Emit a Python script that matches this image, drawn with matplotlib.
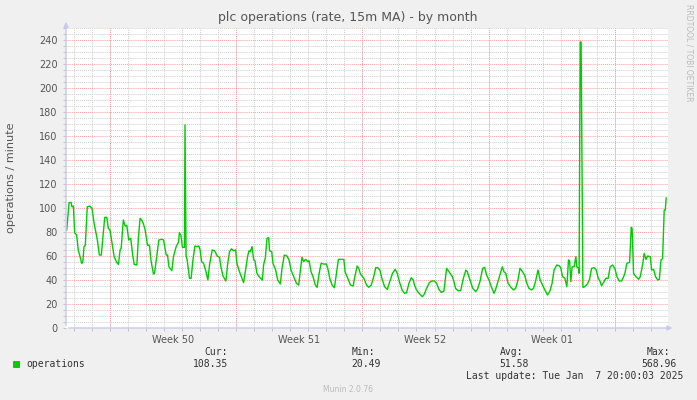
import numpy as np
import matplotlib.pyplot as plt
from matplotlib.patches import Rectangle

# ============== DATA ==============
# time in days from the left edge of the graph, value in operations / minute
days = [0.04, 0.17, 0.28, 0.33, 0.41, 0.48, 0.59, 0.68, 0.78, 0.87, 0.93, 1.00, 1.07,
        1.18, 1.33, 1.44, 1.56, 1.63, 1.74, 1.85, 1.96, 2.04, 2.15, 2.26, 2.35, 2.44,
        2.54, 2.67, 2.82, 2.91, 3.00, 3.06, 3.18, 3.28, 3.37, 3.48, 3.59, 3.70, 3.78,
        3.93, 4.02, 4.11, 4.21, 4.29, 4.39, 4.52, 4.63, 4.71, 4.85, 4.91, 5.04, 5.15,
        5.32, 5.41, 5.56, 5.63, 5.71, 5.87, 5.96, 6.11, 6.24, 6.29, 6.37, 6.46, 6.57,
        6.60, 6.66, 6.72, 6.85, 6.94, 7.04, 7.15, 7.26, 7.37, 7.44, 7.52, 7.63, 7.74,
        7.87, 7.96, 8.11, 8.24, 8.39, 8.52, 8.59, 8.71, 8.87, 8.96, 9.07, 9.18, 9.29,
        9.41, 9.48, 9.59, 9.71, 9.85, 9.96, 10.07, 10.15, 10.22, 10.32, 10.41, 10.48,
        10.59, 10.74, 10.89, 10.96, 11.06, 11.15, 11.24, 11.29, 11.41, 11.48, 11.63,
        11.74, 11.89, 11.98, 12.11, 12.26, 12.37, 12.48, 12.63, 12.78, 12.91, 13.00,
        13.09, 13.18, 13.29, 13.41, 13.48, 13.59, 13.70, 13.83, 13.93, 14.04, 14.15,
        14.29, 14.44, 14.52, 14.63, 14.76, 14.89, 15.00, 15.11, 15.26, 15.41, 15.48,
        15.63, 15.78, 15.93, 16.00, 16.15, 16.24, 16.33, 16.52, 16.67, 16.79, 16.93,
        17.07, 17.18, 17.29, 17.41, 17.52, 17.67, 17.82, 17.93, 18.11, 18.26, 18.37,
        18.52, 18.65, 18.78, 18.89, 19.02, 19.15, 19.26, 19.33, 19.44, 19.57, 19.76,
        19.85, 20.00, 20.15, 20.29, 20.44, 20.56, 20.68, 20.82, 20.96, 21.11, 21.18,
        21.30, 21.43, 21.52, 21.61, 21.74, 21.89, 22.04, 22.18, 22.26, 22.41, 22.56,
        22.72, 22.82, 22.96, 23.11, 23.22, 23.33, 23.46, 23.59, 23.74, 23.82, 23.93,
        24.07, 24.20, 24.29, 24.39, 24.52, 24.67, 24.82, 24.94, 25.07, 25.18, 25.32,
        25.44, 25.56, 25.68, 25.82, 25.93, 26.06, 26.18, 26.30, 26.43, 26.56, 26.71,
        26.85, 26.96, 27.07, 27.22, 27.35, 27.44, 27.54, 27.67, 27.78, 27.87, 27.93,
        28.00, 28.07, 28.18, 28.28, 28.33, 28.43, 28.46, 28.52, 28.57, 28.67, 28.78,
        28.93, 29.04, 29.15, 29.29, 29.41, 29.52, 29.63, 29.70, 29.82, 29.94, 30.07,
        30.18, 30.32, 30.44, 30.56, 30.68, 30.82, 30.93, 31.00, 31.11, 31.26, 31.35,
        31.40, 31.48, 31.61, 31.76, 31.85, 31.98, 32.07, 32.17, 32.26, 32.41, 32.48,
        32.59, 32.70, 32.82, 32.91, 33.00, 33.09, 33.18, 33.24, 33.29]
ops = [81.7, 104.4, 104.7, 101.0, 101.6, 79.4, 77.5, 65.0, 59.4, 53.9, 54.5, 67.8, 69.0,
       101.0, 101.6, 99.7, 87.2, 81.7, 73.3, 60.8, 60.8, 74.7, 92.2, 92.2, 83.0, 81.7,
       72.0, 59.4, 54.4, 53.0, 65.0, 66.4, 90.0, 85.0, 85.5, 73.3, 74.7, 60.8, 53.0,
       52.5, 76.0, 91.4, 89.7, 87.0, 81.7, 69.0, 69.0, 56.7, 45.0, 45.6, 60.8, 73.3,
       74.0, 73.3, 60.8, 60.8, 51.0, 47.8, 59.4, 67.8, 71.5, 79.4, 77.5, 67.2, 67.2,
       169.3, 60.0, 56.7, 41.4, 41.4, 56.7, 68.3, 67.8, 68.3, 65.0, 55.3, 53.9, 48.3,
       40.0, 52.5, 65.0, 64.4, 60.0, 58.9, 51.0, 43.3, 39.2, 52.5, 63.6, 66.0, 64.4,
       65.0, 53.9, 48.3, 43.3, 37.8, 48.3, 59.4, 64.4, 63.6, 67.8, 56.7, 56.1,
       45.6, 42.2, 40.0, 52.5, 58.9, 74.7, 75.3, 64.4, 63.6, 53.9, 48.3,
       40.0, 36.7, 49.7, 60.8, 60.0, 56.7, 48.3, 42.8, 37.2, 35.8, 48.3,
       58.9, 55.3, 57.2, 55.3, 56.1, 46.9, 42.8, 35.8, 33.9, 45.6, 53.9,
       53.3, 53.3, 49.7, 41.4, 35.8, 33.6, 45.6, 57.2, 57.2, 57.2, 46.9,
       41.4, 35.8, 35.0, 41.4, 51.7, 49.7, 45.0, 41.4, 35.8, 33.9, 35.8,
       42.8, 50.3, 50.3, 48.3, 41.4, 34.4, 32.2, 37.2, 45.6, 48.9, 45.6,
       37.2, 31.4, 28.9, 29.4, 37.2, 41.9, 40.0, 35.8, 31.7, 29.2, 26.1,
       27.5, 33.0, 37.8, 39.2, 39.2, 37.2, 32.2, 29.7, 30.6, 49.7, 48.3,
       45.6, 42.8, 38.6, 33.0, 31.1, 31.1, 41.4, 48.3, 46.9, 40.0, 33.0,
       30.3, 32.2, 38.6, 49.7, 50.6, 44.0, 40.0, 34.4, 28.9, 31.7, 37.2,
       44.0, 51.0, 46.9, 45.6, 37.2, 34.0, 31.7, 33.0, 40.0, 49.7, 46.9,
       44.0, 37.2, 33.0, 31.7, 33.0, 40.0, 48.3, 40.0, 35.8, 31.7, 27.5,
       31.1, 37.2, 48.3, 52.5, 51.9, 50.3, 42.8, 41.4, 34.4, 56.7, 56.1,
       38.6, 51.0, 51.0, 59.4, 51.0, 49.7, 45.6, 238.3, 238.3, 33.9, 34.4,
       37.0, 40.6, 49.7, 50.3, 48.3, 41.4, 38.6, 35.2, 38.0, 41.4, 41.4,
       51.0, 52.5, 49.7, 42.8, 39.2, 39.2, 42.8, 45.6, 53.9, 54.7, 83.9,
       83.0, 45.6, 42.8, 40.6, 42.8, 52.5, 62.2, 57.2, 60.0, 59.4, 48.3,
       48.9, 42.8, 40.0, 40.6, 56.7, 57.8, 98.3, 98.3, 108.35]

week_labels = ["Week 50", "Week 51", "Week 52", "Week 01"]
week_starts = [2.44, 9.44, 16.44, 23.44, 30.44]
day_lines = np.arange(0.44, 33.4, 1.0)
x_end = 33.39

legend_name = "operations"
cur, vmin, avg, vmax = "108.35", "20.49", "51.58", "568.96"
last_update = "Last update: Tue Jan  7 20:00:03 2025"

W, H = 697, 400
fig = plt.figure(figsize=(W / 100, H / 100), dpi=100, facecolor='#f0f0f0')
ax = fig.add_axes([66 / W, 1 - 328 / H, (668 - 66) / W, (328 - 28) / H])
ax.set_facecolor('white')

# grid: minor grey dotted, major red dotted
for d in day_lines:
    ax.axvline(d, color='#cfcfcf', lw=0.7, ls=(0, (1, 1)), zorder=1)
for d in week_starts:
    ax.axvline(d, color='#f4a0a0', lw=0.7, ls=(0, (1, 1)), zorder=1.5)
for v in range(5, 251, 5):
    if v % 20 == 0:
        ax.axhline(v, color='#f4a0a0', lw=0.7, ls=(0, (1, 1)), zorder=1.5)
    else:
        ax.axhline(v, color='#cfcfcf', lw=0.7, ls=(0, (1, 1)), zorder=1)

ax.plot(days, ops, color='#00cc00', lw=1.0, zorder=3)

ax.set_xlim(0, x_end)
ax.set_ylim(0, 250)
for s in ax.spines.values():
    s.set_visible(False)

ax.set_yticks(range(0, 241, 20))
ax.set_yticks(range(0, 251, 5), minor=True)
ax.set_xticks([w + 3.5 for w in week_starts[:4]])
ax.set_xticklabels(week_labels)
ax.set_xticks(day_lines, minor=True)
ax.tick_params(axis='both', which='both', labelsize=7, labelcolor='#555555',
               color='#bbbbbb', length=2, width=0.6, pad=4)
ax.tick_params(axis='x', which='major', length=0, pad=5)

# axis lines with arrows
arrow_col = '#c8c8f0'
ax.annotate('', xy=(0, 1.03), xytext=(0, 0), xycoords='axes fraction',
            arrowprops=dict(arrowstyle='-|>', color=arrow_col, lw=1, mutation_scale=7),
            annotation_clip=False)
ax.annotate('', xy=(1.012, 0), xytext=(0, 0), xycoords='axes fraction',
            arrowprops=dict(arrowstyle='-|>', color=arrow_col, lw=1, mutation_scale=7),
            annotation_clip=False)

# texts
fig.text(348 / W, 1 - 18 / H, "plc operations (rate, 15m MA) - by month",
         ha='center', va='center', fontsize=9, color='#555555')
fig.text(11.5 / W, 1 - 178 / H, "operations / minute", rotation=90,
         ha='center', va='center', fontsize=8.1, color='#555555')
fig.text(689 / W, 1 - 53 / H, "RRDTOOL / TOBI OETIKER", rotation=270,
         ha='center', va='center', fontsize=5.5, color='#bbbbbb')

mono = dict(family='DejaVu Sans Mono', fontsize=7, color='#333333', va='center')
fig.patches.append(Rectangle((13 / W, 1 - 367 / H), 6 / W, 6 / H,
                             transform=fig.transFigure, facecolor='#00cc00',
                             edgecolor='#00aa00', lw=0.5))
fig.text(26 / W, 1 - 364 / H, legend_name, ha='left', **mono)
fig.text(228 / W, 1 - 352 / H, "Cur:", ha='right', **mono)
fig.text(228 / W, 1 - 364 / H, cur, ha='right', **mono)
fig.text(375 / W, 1 - 352 / H, "Min:", ha='right', **mono)
fig.text(381 / W, 1 - 364 / H, vmin, ha='right', **mono)
fig.text(523 / W, 1 - 352 / H, "Avg:", ha='right', **mono)
fig.text(529 / W, 1 - 364 / H, avg, ha='right', **mono)
fig.text(670 / W, 1 - 352 / H, "Max:", ha='right', **mono)
fig.text(677 / W, 1 - 364 / H, vmax, ha='right', **mono)
fig.text(683 / W, 1 - 376 / H, last_update, ha='right', **mono)
fig.text(348 / W, 1 - 389 / H, "Munin 2.0.76", ha='center', va='center',
         fontsize=5.5, color='#bbbbbb')

fig.savefig('out.png', dpi=100, facecolor=fig.get_facecolor())
